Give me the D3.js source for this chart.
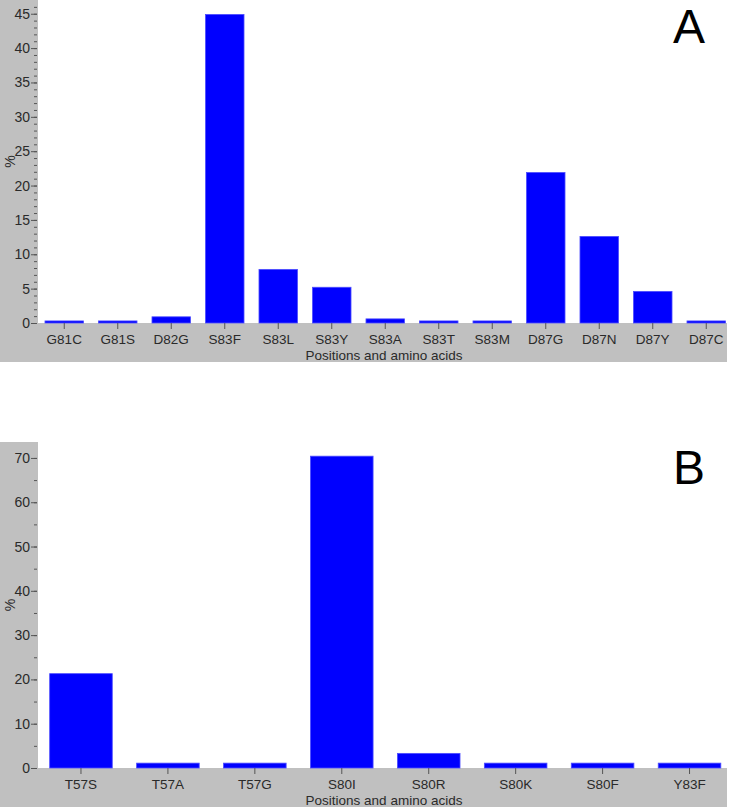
<!DOCTYPE html>
<html lang="en">
  <head>
    <meta charset="utf-8" />
    <title>Mutations by position</title>
    <script src="https://cdn.jsdelivr.net/npm/d3@7/dist/d3.min.js"></script>
    <style>
      body { margin: 0; background: #fff; }
      text { font-family: "Liberation Sans", Arial, sans-serif; }
    </style>
  </head>
  <body>
    <script>
      // panel A
      var catsA = ["G81C", "G81S", "D82G", "S83F", "S83L", "S83Y", "S83A", "S83T", "S83M", "D87G", "D87N", "D87Y", "D87C"]
      var valsA = [0.3, 0.3, 0.9, 44.9, 7.8, 5.2, 0.6, 0.3, 0.3, 21.9, 12.6, 4.6, 0.3]
      var ticksA = [0, 5, 10, 15, 20, 25, 30, 35, 40, 45]
      // panel B
      var catsB = ["T57S", "T57A", "T57G", "S80I", "S80R", "S80K", "S80F", "Y83F"]
      var valsB = [21.3, 1.1, 1.1, 70.4, 3.3, 1.1, 1.1, 1.1]
      var ticksB = [0, 10, 20, 30, 40, 50, 60, 70]

      var W = 731, H = 807
      var svg = d3.select("body").append("svg")
                  .attr("width", W)
                  .attr("height", H)

      function panel(cfg) {
        var g = svg.append("g")

        // grey frame + white plot area
        g.append("rect")
          .attr("x", 0).attr("y", cfg.top)
          .attr("width", 727).attr("height", cfg.bottom + 39 - cfg.top)
          .attr("fill", "#c0c0c0")
        g.append("rect")
          .attr("x", 38).attr("y", cfg.top)
          .attr("width", W - 38).attr("height", cfg.bottom - cfg.top)
          .attr("fill", "#fff")

        var x = d3.scaleBand()
                  .domain(cfg.cats)
                  .range([37.5, 733])
                  .paddingInner(0.28)
                  .paddingOuter(0.14)
        var y = d3.scaleLinear()
                  .domain([0, cfg.max])
                  .range([cfg.bottom, cfg.top])

        g.selectAll("rect.bar")
          .data(cfg.vals)
          .enter()
          .append("rect")
            .attr("class", "bar")
            .attr("x", function(d, i) { return x(cfg.cats[i]) })
            .attr("y", function(d) { return y(d) })
            .attr("width", x.bandwidth())
            .attr("height", function(d) { return cfg.bottom - y(d) })
            .attr("fill", "#0000ff")
            .attr("stroke", "#4d4dff")
            .attr("stroke-width", 0.8)

        // minor y ticks
        var minor = d3.range(0, cfg.max, cfg.minor)
        var ym = g.append("g")
          .attr("transform", "translate(37,0)")
          .call(d3.axisLeft(y).tickValues(minor).tickSize(3).tickFormat(""))
        ym.select(".domain").remove()
        ym.selectAll("line").attr("stroke", "#555")

        // major y ticks
        var ya = g.append("g")
          .attr("transform", "translate(37,0)")
          .call(d3.axisLeft(y).tickValues(cfg.ticks).tickSize(6).tickPadding(1))
        ya.select(".domain").remove()
        ya.selectAll("line").attr("stroke", "#555")
        ya.selectAll("text")
          .attr("fill", "#2a2a2a")
          .style("font-size", "14px")

        // x axis
        var xa = g.append("g")
          .attr("transform", "translate(0," + cfg.bottom + ")")
          .call(d3.axisBottom(x).tickSize(6).tickPadding(3))
        xa.select(".domain").remove()
        xa.selectAll("line").attr("stroke", "#555")
        xa.selectAll("text")
          .attr("y", null)
          .attr("dy", null)
          .attr("transform", "translate(0,21)")
          .attr("fill", "#2a2a2a")
          .style("font-size", "13.5px")

        g.append("text")
          .attr("x", 384)
          .attr("y", cfg.bottom + 37)
          .attr("text-anchor", "middle")
          .attr("fill", "#2a2a2a")
          .style("font-size", "13.5px")
          .text("Positions and amino acids")

        g.append("text")
          .attr("transform", "translate(15," + ((cfg.top + cfg.bottom) / 2) + ") rotate(-90)")
          .attr("text-anchor", "middle")
          .attr("fill", "#2a2a2a")
          .style("font-size", "14px")
          .text("%")

        g.append("text")
          .attr("x", 689)
          .attr("y", cfg.top + cfg.letterY)
          .attr("text-anchor", "middle")
          .attr("fill", "#000")
          .style("font-size", "48px")
          .text(cfg.letter)
      }

      panel({cats: catsA, vals: valsA, ticks: ticksA, max: 47, minor: 1,
             top: 0, bottom: 323, letter: "A", letterY: 43})
      panel({cats: catsB, vals: valsB, ticks: ticksB, max: 73.6, minor: 5,
             top: 442, bottom: 768, letter: "B", letterY: 42})
    </script>
  </body>
</html>
